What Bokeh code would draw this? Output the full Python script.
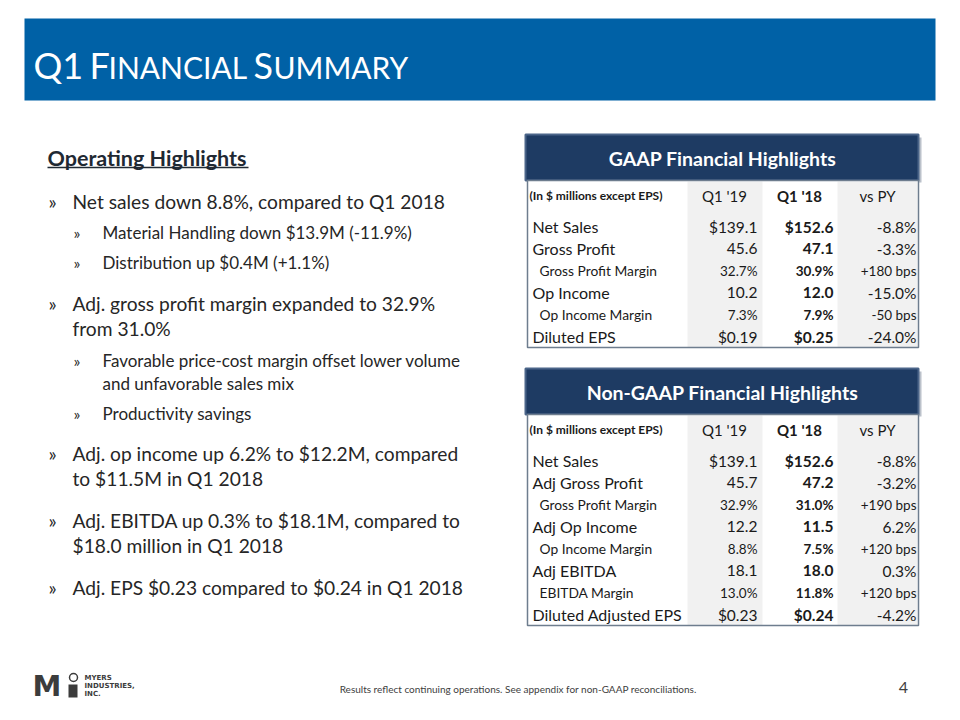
from bokeh.plotting import figure
from bokeh.models import Range1d
from bokeh.core.properties import value
from bokeh.embed import file_html
from bokeh.resources import INLINE

# ---------------- data ----------------
title_text = ["Q1 ", "F", "INANCIAL ", "S", "UMMARY"]
title_big = [True, True, False, True, False]

section_title = "Operating Highlights"
bullet_text = [
    "Net sales down 8.8%, compared to Q1 2018",
    "Material Handling down $13.9M (-11.9%)",
    "Distribution up $0.4M (+1.1%)",
    "Adj. gross profit margin expanded to 32.9%",
    "from 31.0%",
    "Favorable price-cost margin offset lower volume",
    "and unfavorable sales mix",
    "Productivity savings",
    "Adj. op income up 6.2% to $12.2M, compared",
    "to $11.5M in Q1 2018",
    "Adj. EBITDA up 0.3% to $18.1M, compared to",
    "$18.0 million in Q1 2018",
    "Adj. EPS $0.23 compared to $0.24 in Q1 2018",
]
bullet_level = [0, 1, 1, 0, 0, 1, 1, 1, 0, 0, 0, 0, 0]
bullet_mark = [True, True, True, True, False, True, False, True, True, False, True, False, True]

col_headers = ["Q1 '19", "Q1 '18", "vs PY"]
units_note = "(In $ millions except EPS)"

gaap_title = "GAAP Financial Highlights"
gaap_labels = ["Net Sales", "Gross Profit", "Gross Profit Margin", "Op Income",
               "Op Income Margin", "Diluted EPS"]
gaap_level = [0, 0, 1, 0, 1, 0]
gaap_q119 = ["$139.1", "45.6", "32.7%", "10.2", "7.3%", "$0.19"]
gaap_q118 = ["$152.6", "47.1", "30.9%", "12.0", "7.9%", "$0.25"]
gaap_vspy = ["-8.8%", "-3.3%", "+180 bps", "-15.0%", "-50 bps", "-24.0%"]

ng_title = "Non-GAAP Financial Highlights"
ng_labels = ["Net Sales", "Adj Gross Profit", "Gross Profit Margin", "Adj Op Income",
             "Op Income Margin", "Adj EBITDA", "EBITDA Margin", "Diluted Adjusted EPS"]
ng_level = [0, 0, 1, 0, 1, 0, 1, 0]
ng_q119 = ["$139.1", "45.7", "32.9%", "12.2", "8.8%", "18.1", "13.0%", "$0.23"]
ng_q118 = ["$152.6", "47.2", "31.0%", "11.5", "7.5%", "18.0", "11.8%", "$0.24"]
ng_vspy = ["-8.8%", "-3.2%", "+190 bps", "6.2%", "+120 bps", "0.3%", "+120 bps", "-4.2%"]

footer_note = "Results reflect continuing operations.  See appendix for non-GAAP reconciliations."
page_number = "4"
logo_lines = ["MYERS", "INDUSTRIES,", "INC."]

# ---------------- styling / layout ----------------
FONT = "Lato"
BLUE = "#0061A6"
NAVY = "#1E3B63"
TXT = "#262626"
TTXT = "#1A1A1A"
SHADE = "#F1F1F1"

W, H = 944, 704
p = figure(width=W, height=H, output_backend="svg", toolbar_location=None,
           x_range=Range1d(0, W), y_range=Range1d(H, 0),
           min_border=0, outline_line_color=None)
p.axis.visible = False
p.grid.visible = False
p.background_fill_color = "white"
p.border_fill_color = "white"


def txt(x, y, t, size, color=TXT, style="normal", align="left", baseline="middle", font=FONT):
    p.text(x=[x], y=[y], text=[t], text_font=value(font), text_font_size=value(f"{size}px"),
           text_color=color, text_font_style=style, text_align=align, text_baseline=baseline)


# title bar
p.quad(left=[24], right=[935], top=[18], bottom=[100], fill_color=BLUE, line_color=None)
title_x = [33, 89, 108, 253, 273]
TITLE_BASE = 77
for tx, t, big in zip(title_x, title_text, title_big):
    s = 36 if big else 30
    txt(tx, TITLE_BASE - 0.36 * s, t, s, color="white")

# left column: operating highlights
txt(47, 157, section_title, 21.5, color="#1F2933", style="bold")
p.segment(x0=[47], x1=[248], y0=[167], y1=[167], line_color="#1F2933", line_width=1.3)

bullet_y = [201, 232, 262, 303, 328, 360, 383, 413, 453, 478, 520, 545, 587]
for t, lvl, mk, by in zip(bullet_text, bullet_level, bullet_mark, bullet_y):
    if lvl == 0:
        if mk:
            txt(48, by, "\u00bb", 19)
        txt(72, by, t, 19.2)
    else:
        if mk:
            txt(73, by, "\u00bb", 16)
        txt(102, by, t, 17)


# tables
def table(top, title, labels, levels, c1, c2, c3):
    n = len(labels)
    step = 22
    first = top + 92
    bottom = first + step * (n - 1) + 11
    # header box with shadow
    p.quad(left=[528], right=[921], top=[top + 3], bottom=[top + 48], fill_color="#8D98A6",
           fill_alpha=0.6, line_color=None)
    p.quad(left=[525], right=[918], top=[top], bottom=[top + 46], fill_color=NAVY,
           line_color="#4B6589", line_width=2)
    txt(722, top + 24, title, 19.5, color="white", style="bold", align="center")
    # body
    p.quad(left=[527], right=[918], top=[top + 46], bottom=[bottom], fill_color="white",
           line_color=None)
    p.quad(left=[687, 837], right=[762, 917], top=[top + 47] * 2, bottom=[bottom] * 2,
           fill_color=SHADE, line_color=None)
    p.quad(left=[527], right=[918], top=[top + 46], bottom=[bottom], fill_color=None,
           line_color="#6E7D8E", line_width=1.5)
    hy = top + 61
    txt(529, hy, units_note, 12, color=TTXT, style="bold")
    for cx, h, st in zip([724, 799, 877], col_headers, ["normal", "bold", "normal"]):
        txt(cx, hy, h, 15, color=TTXT, style=st, align="center")
    for i in range(n):
        y = first + step * i
        big = levels[i] == 0
        fs = 16 if big else 13.8
        vs = 15.5 if big else 13.5
        txt(532 if big else 539, y, labels[i], fs, color=TTXT)
        txt(757, y, c1[i], vs, color=TTXT, align="right")
        txt(833, y, c2[i], vs, color=TTXT, align="right", style="bold")
        txt(916, y, c3[i], vs, color=TTXT, align="right")


table(134, gaap_title, gaap_labels, gaap_level, gaap_q119, gaap_q118, gaap_vspy)
table(368, ng_title, ng_labels, ng_level, ng_q119, ng_q118, ng_vspy)

# footer
txt(519, 688, footer_note, 10, color="#404040", align="center")
txt(903, 687, page_number, 16, color="#404040", align="center")

# logo
txt(32, 685, "M", 29, color="#3C3C3C", style="bold", font="DejaVu Sans")
p.quad(left=[68], right=[77], top=[684], bottom=[697], fill_color="#3C3C3C", line_color=None)
p.scatter(x=[73], y=[677], size=8, fill_color="white", line_color="#3C3C3C", line_width=1.5)
for i, lt in enumerate(logo_lines):
    txt(84, 677 + 8 * i, lt, 7, color="#3C3C3C", style="bold", font="DejaVu Sans")

open("out.html", "w").write(file_html(p, INLINE))
